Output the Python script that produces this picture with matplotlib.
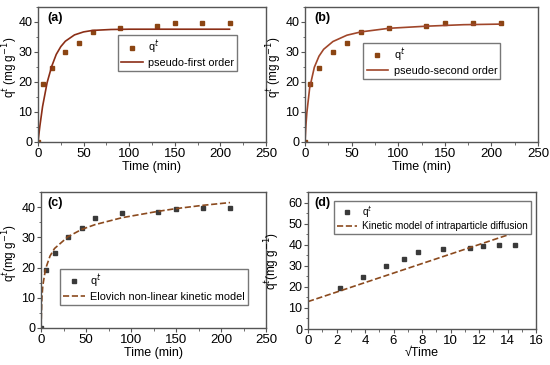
import matplotlib
matplotlib.use("Agg")
import matplotlib.pyplot as plt
from matplotlib.ticker import MultipleLocator

plt.rcParams['font.family'] = ['Liberation Sans', 'DejaVu Sans']
plt.rcParams['font.size'] = 9
plt.rcParams['axes.labelsize'] = 9
plt.rcParams['xtick.labelsize'] = 9.5
plt.rcParams['ytick.labelsize'] = 9
plt.rcParams['legend.fontsize'] = 7.8

# experimental data
time = [0, 5, 15, 30, 45, 60, 90, 130, 150, 180, 210]
qt = [0, 19.3, 24.7, 30.0, 33.0, 36.5, 38.0, 38.5, 39.5, 39.7, 39.7]
sqrt_time = [2.24, 3.87, 5.48, 6.71, 7.75, 9.49, 11.4, 12.25, 13.4, 14.5]
qt_d = [19.3, 24.7, 30.0, 33.0, 36.5, 38.0, 38.5, 39.5, 39.7, 39.7]

# model curves
t_pfo = [0, 2, 5, 10, 15, 20, 25, 30, 40, 50, 60, 80, 100, 150, 210]
q_pfo = [0, 5.2, 11.8, 19.8, 25.2, 29.2, 31.8, 33.6, 35.7, 36.7, 37.2, 37.5, 37.6, 37.6, 37.6]

t_pso = [0, 1, 2, 5, 10, 15, 20, 30, 45, 60, 90, 130, 170, 210]
q_pso = [0, 5.6, 9.8, 18.0, 24.9, 28.6, 30.9, 33.5, 35.6, 36.7, 37.9, 38.6, 39.1, 39.3]

t_elo = [0, 1, 2, 5, 10, 15, 30, 45, 60, 90, 130, 150, 180, 210]
q_elo = [0, 10.0, 14.0, 19.5, 23.8, 26.3, 30.2, 32.6, 34.2, 36.5, 38.6, 39.5, 40.6, 41.5]

x_ipd = [0, 14.5]
q_ipd = [13.0, 45.7]

W, H = 550, 365
fig = plt.figure(figsize=(5.5, 3.65), dpi=100)

def make_ax(l, t, r, b):
  ax = fig.add_axes([l / W, (H - b) / H, (r - l) / W, (b - t) / H])
  for s in ax.spines.values():
    s.set_color('#555555')
    s.set_linewidth(1.0)
  ax.tick_params(direction='out', length=3, width=0.8, color='#555555', pad=1)
  ax.tick_params(which='minor', direction='out', length=1.8, width=0.6, color='#555555')
  return ax

def legend(ax, **kw):
  ax.legend(fancybox=False, edgecolor='#777777', framealpha=1, borderpad=0.3,
            labelspacing=0.15, handlelength=2.0, handletextpad=0.5,
            borderaxespad=0, **kw)

brown_sq = '#8B4513'
grey_sq = '#3a3a3a'

# (a)
ax = make_ax(38, 7, 266, 142)
ax.plot(time, qt, 's', color=brown_sq, markersize=3.5, label='q$^t$')
ax.plot(t_pfo, q_pfo, '-', color='#8B2E16', linewidth=1.2, label='pseudo-first order')
ax.set_xlim(0, 250)
ax.set_ylim(0, 45)
ax.xaxis.set_major_locator(MultipleLocator(50))
ax.xaxis.set_minor_locator(MultipleLocator(25))
ax.yaxis.set_major_locator(MultipleLocator(10))
ax.yaxis.set_minor_locator(MultipleLocator(5))
ax.set_xlabel('Time (min)', labelpad=1)
ax.set_ylabel('q$^t$ (mg g$^{-1}$)', fontsize=8.5)
ax.yaxis.set_label_coords(-0.081, 0.55)
ax.text(0.04, 0.96, '(a)', transform=ax.transAxes, fontweight='bold', va='top')
legend(ax, loc='upper left', bbox_to_anchor=(0.35, 0.79))

# (b)
ax = make_ax(305, 7, 538, 142)
ax.plot(time, qt, 's', color=brown_sq, markersize=3.5, label='q$^t$')
ax.plot(t_pso, q_pso, '-', color='#A0462A', linewidth=1.2, label='pseudo-second order')
ax.set_xlim(0, 250)
ax.set_ylim(0, 45)
ax.xaxis.set_major_locator(MultipleLocator(50))
ax.xaxis.set_minor_locator(MultipleLocator(25))
ax.yaxis.set_major_locator(MultipleLocator(10))
ax.yaxis.set_minor_locator(MultipleLocator(5))
ax.set_xlabel('Time (min)', labelpad=1)
ax.set_ylabel('q$^t$ (mg g$^{-1}$)', fontsize=8.5)
ax.yaxis.set_label_coords(-0.092, 0.55)
ax.text(0.04, 0.96, '(b)', transform=ax.transAxes, fontweight='bold', va='top')
legend(ax, loc='upper left', bbox_to_anchor=(0.25, 0.733))

# (c)
ax = make_ax(41, 192, 266, 328)
ax.plot(time, qt, 's', color=grey_sq, markersize=3, label='q$^t$')
ax.plot(t_elo, q_elo, '--', color='#8B4A1E', linewidth=1.2,
        label='Elovich non-linear kinetic model')
ax.set_xlim(0, 250)
ax.set_ylim(0, 45)
ax.xaxis.set_major_locator(MultipleLocator(50))
ax.xaxis.set_minor_locator(MultipleLocator(25))
ax.yaxis.set_major_locator(MultipleLocator(10))
ax.yaxis.set_minor_locator(MultipleLocator(5))
ax.set_xlabel('Time (min)', labelpad=1)
ax.set_ylabel('q$^t$(mg g$^{-1}$)', fontsize=8.5)
ax.yaxis.set_label_coords(-0.095, 0.55)
ax.text(0.03, 0.96, '(c)', transform=ax.transAxes, fontweight='bold', va='top')
legend(ax, loc='lower left', bbox_to_anchor=(0.085, 0.17))

# (d)
ax = make_ax(308, 192, 536, 329)
ax.plot(sqrt_time, qt_d, 's', color=grey_sq, markersize=3, label='q$^t$')
ax.plot(x_ipd, q_ipd, '--', color='#8B4A1E', linewidth=1.2,
        label='Kinetic model of intraparticle diffusion')
ax.set_xlim(0, 16)
ax.set_ylim(0, 65)
ax.xaxis.set_major_locator(MultipleLocator(2))
ax.xaxis.set_minor_locator(MultipleLocator(1))
ax.yaxis.set_major_locator(MultipleLocator(10))
ax.yaxis.set_minor_locator(MultipleLocator(5))
ax.set_xlabel('\u221aTime', labelpad=0)
ax.set_ylabel('q$^t$(mg g$^{-1}$)', fontsize=8.5)
ax.yaxis.set_label_coords(-0.112, 0.5)
ax.text(0.03, 0.96, '(d)', transform=ax.transAxes, fontweight='bold', va='top')
legend(ax, loc='upper left', bbox_to_anchor=(0.114, 0.934), fontsize=7.2)

fig.savefig('out.png', dpi=100)
